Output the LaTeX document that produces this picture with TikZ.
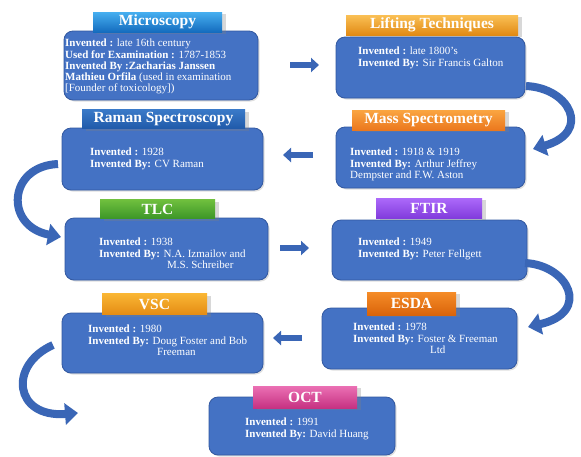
\documentclass[tikz,border=0pt]{standalone}
\usepackage{fontspec}
\setmainfont{Liberation Serif}
\usetikzlibrary{arrows.meta,shadows}

\definecolor{boxblue}{RGB}{68,114,196}
\definecolor{boxedge}{RGB}{50,88,160}
\definecolor{arrowblue}{RGB}{58,102,182}

\begin{document}
\begin{tikzpicture}[x=1pt,y=-1pt,
  box/.style={draw=boxedge,line width=0.8pt,fill=boxblue,rounded corners=9pt,inner sep=0pt,
    drop shadow={shadow xshift=1.5pt,shadow yshift=-1.5pt,opacity=0.25}},
  tab/.style={inner sep=0pt,text=white,font=\bfseries\fontsize{15.5}{17}\selectfont,
    drop shadow={shadow xshift=4pt,shadow yshift=-2pt,opacity=0.3}},
  body/.style={anchor=north west,inner sep=0pt,text=white,align=left,
    font=\fontsize{11}{11.2}\selectfont},
  flow/.style={line width=6.5pt,draw=arrowblue,-{Triangle[length=8pt,width=14pt]}},
  curvearrow/.style={line width=8pt,draw=arrowblue,-{Triangle[length=13pt,width=21pt]}}]
\useasboundingbox[fill=white] (0,0) rectangle (581,456);

% boxes
\node[box,minimum width=194pt,minimum height=69pt] (micro) at (161,65.5) {};
\node[box,minimum width=189pt,minimum height=61pt] (lift) at (430.5,67.5) {};
\node[box,minimum width=201pt,minimum height=62pt] (raman) at (162.5,159) {};
\node[box,minimum width=189pt,minimum height=61pt] (mass) at (430.5,157.5) {};
\node[box,minimum width=203pt,minimum height=62pt] (tlc) at (166.5,249) {};
\node[box,minimum width=195pt,minimum height=60pt] (ftir) at (429.5,250) {};
\node[box,minimum width=201pt,minimum height=60pt] (vsc) at (162.5,343) {};
\node[box,minimum width=195pt,minimum height=61pt] (esda) at (419.5,338.5) {};
\node[box,minimum width=186pt,minimum height=58pt] (oct) at (302,426) {};

% title tabs
\node[tab,top color={rgb,255:red,70;green,175;blue,240},bottom color={rgb,255:red,20;green,108;blue,190},
  minimum width=129pt,minimum height=20pt] (micro-h) at (157.5,22) {Microscopy};
\node[tab,top color={rgb,255:red,250;green,192;blue,85},bottom color={rgb,255:red,225;green,138;blue,20},
  minimum width=172pt,minimum height=20pt] (lift-h) at (432,25) {Lifting Techniques};
\node[tab,top color={rgb,255:red,58;green,122;blue,200},bottom color={rgb,255:red,32;green,90;blue,170},
  minimum width=163pt,minimum height=19pt] (raman-h) at (163.5,119) {Raman Spectroscopy};
\node[tab,top color={rgb,255:red,250;green,165;blue,65},bottom color={rgb,255:red,235;green,120;blue,30},
  minimum width=153pt,minimum height=20pt] (mass-h) at (428.5,120) {Mass Spectrometry};
\node[tab,top color={rgb,255:red,112;green,192;blue,62},bottom color={rgb,255:red,60;green,150;blue,40},
  minimum width=115pt,minimum height=19pt] (tlc-h) at (157.5,209) {TLC};
\node[tab,top color={rgb,255:red,172;green,105;blue,250},bottom color={rgb,255:red,130;green,60;blue,220},
  minimum width=106pt,minimum height=20pt] (ftir-h) at (429,208) {FTIR};
\node[tab,top color={rgb,255:red,250;green,182;blue,52},bottom color={rgb,255:red,228;green,140;blue,20},
  minimum width=105pt,minimum height=21pt] (vsc-h) at (154.5,304) {VSC};
\node[tab,top color={rgb,255:red,245;green,140;blue,40},bottom color={rgb,255:red,218;green,100;blue,10},
  minimum width=89pt,minimum height=23pt] (esda-h) at (411.5,303.5) {ESDA};
\node[tab,top color={rgb,255:red,235;green,112;blue,180},bottom color={rgb,255:red,198;green,50;blue,130},
  minimum width=104pt,minimum height=22pt] (oct-h) at (305,397) {OCT};

% texts
\node[body] (micro-t) at (65,39) {\textbf{Invented :} late 16th century\\
  \textbf{Used for Examination :} 1787-1853\\
  \textbf{Invented By :Zacharias Janssen}\\
  \textbf{Mathieu Orfila} (used in examination\\
  {[}Founder of toxicology])};
\node[body] (lift-t) at (358,47) {\textbf{Invented :} late 1800's\\
  \textbf{Invented By:} Sir Francis Galton};
\node[body] (raman-t) at (90,148) {\textbf{Invented :} 1928\\
  \textbf{Invented By:} CV Raman};
\node[body] (mass-t) at (350,148) {\textbf{Invented :} 1918 \& 1919\\
  \textbf{Invented By:} Arthur Jeffrey\\
  Dempster and F.W. Aston};
\node[body] (tlc-t) at (99,238) {\textbf{Invented :} 1938\\
  \textbf{Invented By:} N.A. Izmailov and\\
  \hspace*{68pt}M.S. Schreiber};
\node[body] (ftir-t) at (358,238) {\textbf{Invented :} 1949\\
  \textbf{Invented By:} Peter Fellgett};
\node[body] (vsc-t) at (88,325) {\textbf{Invented :} 1980\\
  \textbf{Invented By:} Doug Foster and Bob\\
  \hspace*{69pt}Freeman};
\node[body] (esda-t) at (353,323) {\textbf{Invented :} 1978\\
  \textbf{Invented By:} Foster \& Freeman\\
  \hspace*{77pt}Ltd};
\node[body] (oct-t) at (245,418) {\textbf{Invented :} 1991\\
  \textbf{Invented By:} David Huang};

% arrow ends
\coordinate (a1) at (290,65);
\coordinate (b1) at (319,65);
\coordinate (a2) at (313,155);
\coordinate (b2) at (283,155);
\coordinate (a3) at (280,248);
\coordinate (b3) at (309,248);
\coordinate (a4) at (302,338);
\coordinate (b4) at (273,338);
\coordinate (c1) at (526,86);
\coordinate (d1) at (533,149);
\coordinate (c2) at (58,164);
\coordinate (d2) at (61,237);
\coordinate (c3) at (525,263);
\coordinate (d3) at (528,327);
\coordinate (c4) at (53,345);
\coordinate (d4) at (78,413);

\draw[flow] (a1) -- (b1);% Microscopy to Lifting
\draw[flow] (a2) -- (b2);% Mass to Raman
\draw[flow] (a3) -- (b3);% TLC to FTIR
\draw[flow] (a4) -- (b4);% ESDA to VSC
\draw[curvearrow] (c1) .. controls (570,88) and (592,132) .. (d1);% Lifting to Mass
\draw[curvearrow] (c2) .. controls (8,166) and (4,226) .. (d2);% Raman to TLC
\draw[curvearrow] (c3) .. controls (568,265) and (592,312) .. (d3);% FTIR to ESDA
\draw[curvearrow] (c4) .. controls (8,365) and (14,418) .. (d4);% VSC to OCT
\end{tikzpicture}
\end{document}
